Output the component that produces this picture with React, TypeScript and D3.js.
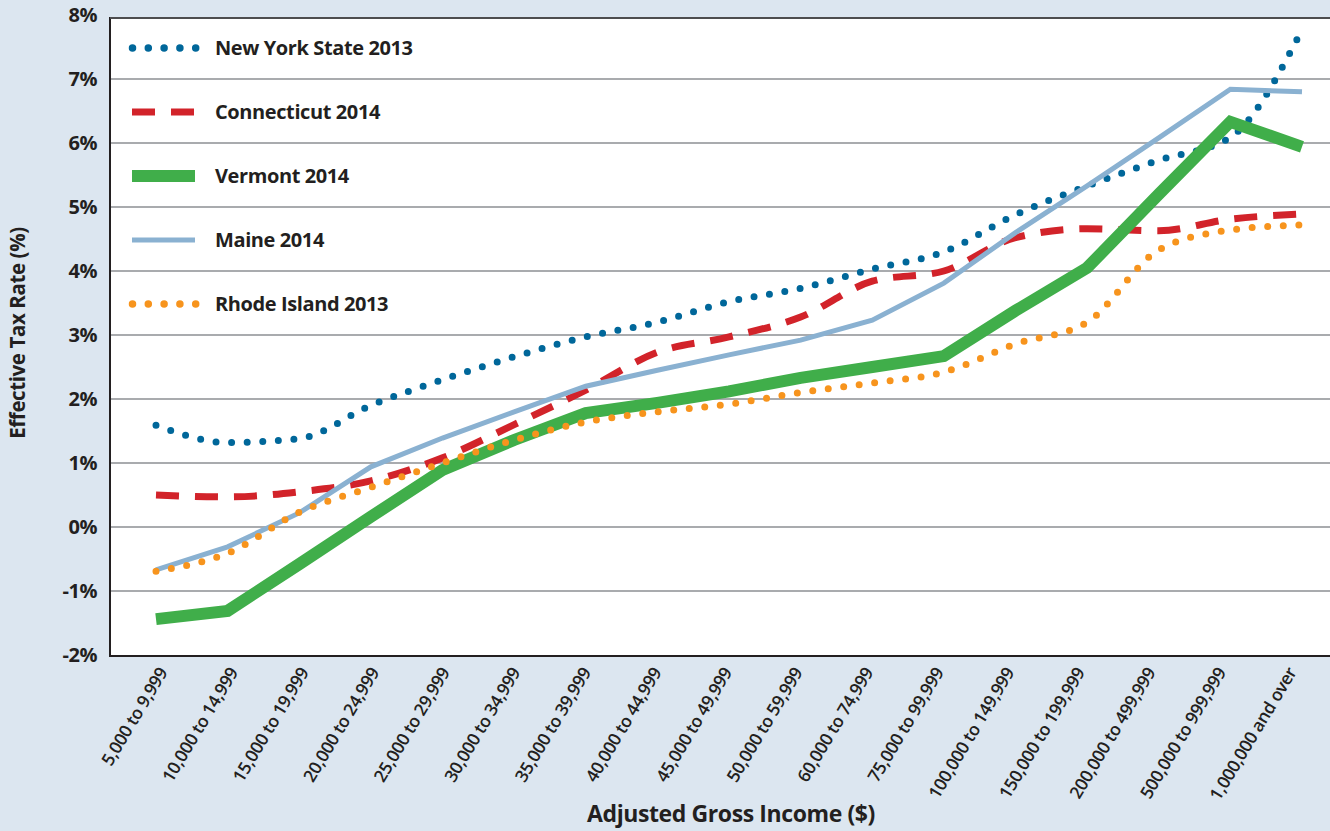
import React from 'react'
import * as d3 from 'd3'

const categories = [
  '5,000 to 9,999', '10,000 to 14,999', '15,000 to 19,999', '20,000 to 24,999',
  '25,000 to 29,999', '30,000 to 34,999', '35,000 to 39,999', '40,000 to 44,999',
  '45,000 to 49,999', '50,000 to 59,999', '60,000 to 74,999', '75,000 to 99,999',
  '100,000 to 149,999', '150,000 to 199,999', '200,000 to 499,999', '500,000 to 999,999',
  '1,000,000 and over',
]

const newYork = [1.59, 1.32, 1.38, 1.9, 2.3, 2.66, 2.97, 3.2, 3.52, 3.73, 4.03, 4.3, 4.88, 5.33, 5.73, 6.09, 7.77]
const connecticut = [0.5, 0.47, 0.55, 0.72, 1.08, 1.6, 2.14, 2.73, 2.97, 3.28, 3.84, 4.0, 4.52, 4.66, 4.63, 4.81, 4.89]
const vermont = [-1.44, -1.31, -0.58, 0.16, 0.89, 1.36, 1.78, 1.94, 2.12, 2.33, 2.5, 2.67, 3.38, 4.05, 5.2, 6.33, 5.94]
const maine = [-0.67, -0.31, 0.22, 0.94, 1.39, 1.8, 2.2, 2.45, 2.69, 2.92, 3.23, 3.81, 4.6, 5.33, 6.08, 6.84, 6.8]
const rhodeIsland = [-0.69, -0.41, 0.23, 0.62, 1.0, 1.36, 1.64, 1.8, 1.92, 2.1, 2.25, 2.42, 2.86, 3.2, 4.33, 4.64, 4.72]

const yTicks = [8, 7, 6, 5, 4, 3, 2, 1, 0, -1, -2]

const series = [
  { name: 'New York State 2013', values: newYork, color: '#00679a', width: 7, dash: '0 15.6', cap: 'round', curve: d3.curveMonotoneX },
  { name: 'Connecticut 2014', values: connecticut, color: '#d2232a', width: 7, dash: '23 16', cap: 'butt', curve: d3.curveMonotoneX },
  { name: 'Vermont 2014', values: vermont, color: '#40ae4a', width: 12, dash: 'none', cap: 'butt', curve: d3.curveLinear },
  { name: 'Maine 2014', values: maine, color: '#8ab1d1', width: 5, dash: 'none', cap: 'butt', curve: d3.curveLinear },
  { name: 'Rhode Island 2013', values: rhodeIsland, color: '#f7941d', width: 7, dash: '0 15.6', cap: 'round', curve: d3.curveMonotoneX },
]

const W = 1330
const H = 831
const font = "'Open Sans', 'DejaVu Sans', sans-serif"

export default function App() {
  const left = 110
  const top = 18
  const bottom = 656

  const x = d3.scalePoint<string>().domain(categories).range([156, 1302])
  // tick labels in the original are spaced slightly tighter than the points
  const xLabel = d3.scalePoint<string>().domain(categories).range([163, 1292])
  const y = d3.scaleLinear().domain([-2, 8]).range([655, 15])

  const legendY = d3.scalePoint<string>().domain(series.map(s => s.name)).range([48, 304])

  return (
    <svg width={W} height={H} style={{ position: 'absolute', left: 0, top: 0 }} fontFamily={font}>
      <rect x={0} y={0} width={W} height={H} fill="#dce6f0" />
      <rect x={left} y={top} width={W - left} height={bottom - top} fill="#ffffff" />

      {yTicks.filter(t => t < 8 && t > -2).map(t => (
        <line key={t} x1={left} x2={W} y1={y(t)} y2={y(t)} stroke="#a9abae" strokeWidth={2} />
      ))}

      {series.map(s => {
        const line = d3.line<number>()
          .x((_, i) => x(categories[i]) as number)
          .y(d => y(d))
          .curve(s.curve)
        return (
          <path key={s.name} d={line(s.values) ?? ''} fill="none" stroke={s.color}
            strokeWidth={s.width} strokeDasharray={s.dash} strokeLinecap={s.cap as any}
            strokeLinejoin="miter" />
        )
      })}

      {series.map(s => {
        const ly = legendY(s.name) as number
        return (
          <g key={'lg' + s.name}>
            {s.dash === '0 15.6' ? (
              <line x1={132.5} x2={196} y1={ly} y2={ly} stroke={s.color} strokeWidth={7.5}
                strokeDasharray="0 15.8" strokeLinecap="round" />
            ) : s.dash === '23 16' ? (
              <line x1={132} x2={195} y1={ly} y2={ly} stroke={s.color} strokeWidth={7}
                strokeDasharray="23 16" />
            ) : (
              <line x1={132} x2={195} y1={ly} y2={ly} stroke={s.color} strokeWidth={s.width} />
            )}
            <text x={215} y={ly} dy="0.36em" fontSize={20} fontWeight={700} fill="#231f20"
              letterSpacing={-0.4}>{s.name}</text>
          </g>
        )
      })}

      <line x1={left} x2={left} y1={top - 1} y2={bottom + 1} stroke="#231f20" strokeWidth={2} />
      <line x1={left} x2={W} y1={top} y2={top} stroke="#4d4d4f" strokeWidth={2} />
      <line x1={left} x2={W} y1={bottom} y2={bottom} stroke="#231f20" strokeWidth={2} />

      {yTicks.map(t => (
        <text key={'yt' + t} x={97} y={y(t)} dy="0.35em" textAnchor="end" fontSize={20}
          fontWeight={700} fill="#231f20" letterSpacing={-0.5}>{t}%</text>
      ))}

      {categories.map(c => (
        <text key={c} transform={`translate(${xLabel(c)},${669}) rotate(-59)`} textAnchor="end"
          dy="0.35em" fontSize={17.5} fontWeight={600} fill="#231f20" letterSpacing={-0.4}>{c}</text>
      ))}

      <text transform={`translate(${25},${333}) rotate(-90)`} textAnchor="middle" fontSize={20.5}
        fontWeight={700} fill="#231f20" letterSpacing={-0.4}>Effective Tax Rate (%)</text>
      <text x={731} y={822} textAnchor="middle" fontSize={23} fontWeight={700} fill="#231f20"
        letterSpacing={-0.4}>Adjusted Gross Income ($)</text>
    </svg>
  )
}
